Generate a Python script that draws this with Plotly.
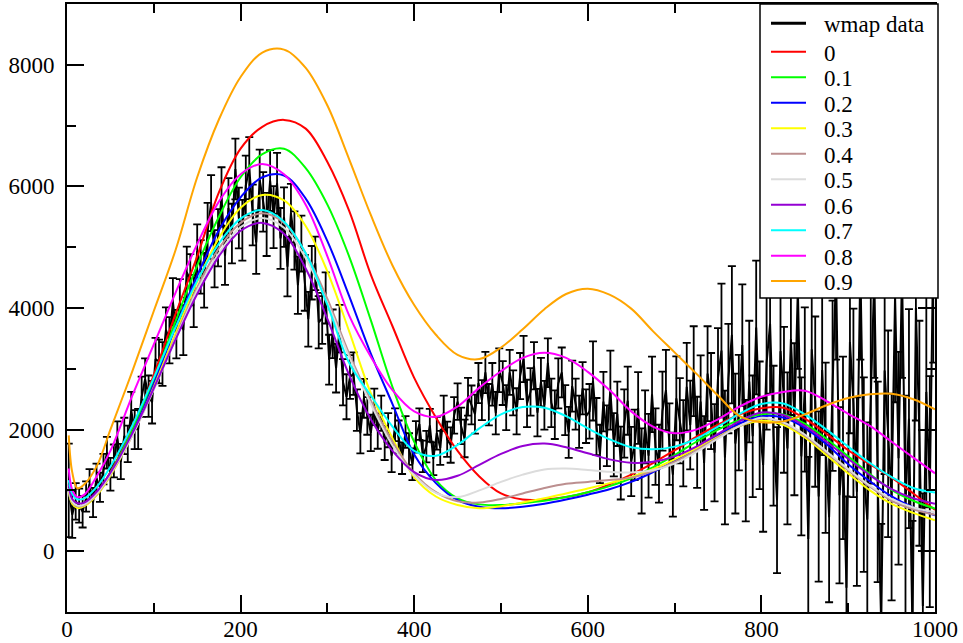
import plotly.graph_objects as go

# ---------------- WMAP data (l, D_l, error) ----------------
data_l = list(range(2, 1000, 4))
data_v = [
    1000, 600, 820, 750, 650, 900, 1100, 800, 1200, 1050,
    1350, 1620, 1265, 1485, 1855, 1475, 1895, 1765, 2310, 2000,
    2010, 2540, 2830, 2550, 2450, 3160, 3120, 3080, 3640, 3470,
    4100, 3570, 4075, 3635, 4590, 4465, 4115, 4935, 4675, 4455,
    5270, 5725, 4810, 5155, 5835, 4860, 5645, 5225, 6285, 5480,
    5280, 6015, 6300, 5530, 5080, 6105, 5745, 5375, 6095, 5495,
    6050, 5145, 5495, 4680, 5560, 5110, 4375, 5060, 4415, 3815,
    4580, 4735, 3765, 3830, 4165, 3150, 3575, 3010, 3660, 2780,
    2540, 2865, 2920, 2320, 1940, 2515, 2225, 1945, 2375, 1975,
    2270, 1780, 1990, 1570, 2080, 1880, 1530, 1960, 1680, 1430,
    1880, 2090, 1560, 1720, 2070, 1520, 1940, 1700, 2280, 1840,
    1745, 2235, 2460, 2060, 1855, 2540, 2405, 2255, 2765, 2485,
    2940, 2410, 2745, 2270, 2975, 2765, 2360, 2940, 2605, 2300,
    2880, 3160, 2430, 2620, 3050, 2280, 2780, 2400, 3100, 2440,
    2245, 2760, 2940, 2320, 1955, 2715, 2420, 2130, 2680, 2220,
    2300, 2800, 2050, 1600, 2460, 1900, 2650, 1750, 2260, 1450,
    2100, 2475, 1475, 1750, 2355, 1320, 2045, 1570, 2580, 1720,
    1440, 2305, 2650, 1760, 1260, 2515, 2145, 1775, 2705, 2075,
    2960, 1790, 2460, 1450, 2920, 2470, 1620, 2850, 3300, 1540,
    2840, 3560, 1770, 2280, 3390, 1490, 2790, 1890, 3680, 2070,
    1420, 3100, 3740, 1900, 840, 3290, 2490, 1690, 3490, 2170,
    4300, 1560, 2660, 200, 3320, 2460, 900, 2980, 1700, 560,
    2720, 4600, 920, 1700, -600, 3440, 2440, 980, 4700, 1260,
    520, 2710, 4500, 1140, -1200, 2970, 1930, 890, 4200, 1530,
    4600, 760, 2180, -1300, 4000, 1940, -900, 2620, 980, 5000,
]
data_err = [
    770, 380, 300, 280, 260, 250, 250, 240, 240, 240,
    250, 260, 270, 270, 280, 290, 300, 300, 310, 320,
    330, 330, 340, 340, 350, 350, 360, 360, 370, 380,
    390, 400, 400, 410, 420, 420, 430, 440, 440, 450,
    460, 460, 470, 470, 480, 480, 490, 490, 500, 500,
    500, 490, 510, 500, 520, 500, 490, 520, 500, 510,
    500, 500, 490, 490, 480, 480, 470, 460, 460, 450,
    440, 440, 430, 420, 420, 410, 400, 400, 390, 380,
    370, 360, 350, 340, 330, 320, 310, 300, 300, 290,
    290, 280, 280, 270, 270, 270, 260, 260, 260, 260,
    260, 260, 260, 260, 270, 270, 270, 280, 280, 290,
    290, 300, 300, 300, 310, 310, 320, 320, 330, 330,
    340, 340, 350, 350, 360, 360, 370, 370, 370, 380,
    380, 380, 390, 390, 390, 390, 400, 400, 400, 400,
    400, 410, 410, 410, 420, 420, 420, 430, 430, 440,
    450, 650, 470, 480, 490, 500, 650, 520, 530, 600,
    560, 560, 570, 580, 590, 700, 600, 690, 620, 630,
    640, 650, 660, 670, 690, 690, 700, 710, 720, 730,
    740, 750, 760, 770, 780, 790, 800, 820, 1100, 1100,
    900, 1130, 1150, 950, 1000, 1000, 1000, 1000, 1100, 1050,
    1100, 1100, 1150, 1150, 1200, 1200, 1200, 1250, 1250, 1250,
    1300, 1300, 1350, 1350, 1350, 1400, 1400, 1400, 1400, 1400,
    1400, 1450, 1450, 1500, 1500, 1500, 1550, 1550, 1550, 1600,
    1600, 1600, 1650, 1650, 1650, 1700, 1700, 1700, 1750, 1750,
    1750, 1800, 1800, 1800, 1850, 1850, 1850, 1900, 1900, 1900,
]

# ---------------- model curves ----------------
model_l = [2, 6, 12, 20, 35, 50, 75, 100, 125, 150, 175, 200, 225, 250, 275,
           300, 325, 350, 375, 400, 425, 450, 475, 500, 525, 550, 575, 600,
           625, 650, 675, 700, 725, 750, 775, 800, 825, 850, 875, 900, 925,
           950, 975, 1000]

m_00 = [1000, 800, 740, 770, 970, 1300, 2000, 2900, 3900, 4850, 5900, 6620, 6980, 7094, 6950,
        6400, 5600, 4550, 3700, 2850, 2200, 1650, 1230, 950, 850, 850, 890, 970,
        1100, 1260, 1450, 1660, 1880, 2080, 2250, 2350, 2360, 2180, 1930, 1660, 1430,
        1210, 950, 680]
m_01 = [1000, 790, 730, 760, 960, 1290, 1980, 2820, 3780, 4700, 5500, 6150, 6530, 6620, 6300,
        5700, 4850, 3800, 2700, 1800, 1170, 870, 770, 760, 790, 830, 890, 970,
        1070, 1200, 1380, 1580, 1800, 2000, 2160, 2250, 2250, 2100, 1850, 1560, 1270,
        1010, 830, 700]
m_02 = [990, 790, 720, 750, 940, 1260, 1930, 2750, 3680, 4530, 5280, 5820, 6150, 6180, 5800,
        5100, 4200, 3250, 2420, 1590, 1120, 840, 730, 706, 730, 780, 850, 930,
        1020, 1140, 1300, 1480, 1690, 1910, 2100, 2220, 2200, 2030, 1760, 1430, 1150,
        900, 720, 590]
m_03 = [980, 780, 710, 740, 930, 1240, 1900, 2700, 3580, 4430, 5150, 5650, 5860, 5770, 5350,
        4600, 3620, 2600, 1860, 1220, 900, 760, 706, 740, 800, 870, 950, 1030,
        1120, 1220, 1350, 1510, 1690, 1880, 2060, 2145, 2080, 1870, 1580, 1280, 1000,
        780, 630, 510]
m_04 = [1020, 810, 740, 760, 950, 1260, 1900, 2670, 3520, 4340, 4980, 5400, 5560, 5400, 4900,
        4150, 3250, 2480, 1800, 1280, 970, 820, 800, 860, 950, 1040, 1110, 1140,
        1170, 1210, 1320, 1470, 1660, 1870, 2060, 2180, 2110, 1900, 1620, 1330, 1060,
        830, 690, 600]
m_05 = [1040, 820, 750, 770, 960, 1270, 1900, 2660, 3490, 4290, 4900, 5330, 5480, 5320, 4820,
        4080, 3200, 2420, 1740, 1250, 960, 890, 1000, 1140, 1260, 1345, 1360, 1335,
        1305, 1295, 1330, 1440, 1630, 1850, 2060, 2195, 2120, 1920, 1640, 1350, 1080,
        860, 720, 640]
m_06 = [1100, 860, 790, 800, 990, 1290, 1930, 2680, 3480, 4230, 4850, 5270, 5400, 5220, 4650,
        3820, 2900, 2170, 1650, 1300, 1170, 1240, 1420, 1600, 1730, 1770, 1710, 1610,
        1510, 1455, 1470, 1560, 1720, 1930, 2140, 2280, 2240, 2060, 1800, 1520, 1250,
        1020, 870, 780]
m_07 = [1170, 950, 855, 870, 1070, 1390, 2060, 2850, 3680, 4450, 5060, 5470, 5610, 5420, 4900,
        4050, 3100, 2560, 2050, 1650, 1570, 1750, 2020, 2250, 2370, 2360, 2220, 2020,
        1840, 1710, 1675, 1720, 1850, 2050, 2260, 2420, 2430, 2250, 2000, 1720, 1450,
        1220, 1040, 965]
m_08 = [1360, 1010, 890, 930, 1250, 1650, 2550, 3400, 4250, 5050, 5750, 6200, 6370, 6200, 5700,
        4850, 3880, 3200, 2650, 2300, 2210, 2380, 2690, 2960, 3180, 3265, 3180, 2950,
        2650, 2300, 2050, 1940, 2000, 2170, 2380, 2540, 2620, 2640, 2470, 2260, 2060,
        1800, 1540, 1281]
m_09 = [1905, 1300, 1034, 1100, 1420, 2000, 2950, 3950, 4950, 6150, 7100, 7800, 8200, 8250, 7950,
        7330, 6450, 5530, 4700, 4050, 3560, 3230, 3160, 3350, 3650, 3980, 4230, 4318,
        4220, 3990, 3620, 3270, 2920, 2560, 2220, 2120, 2135, 2250, 2400, 2520, 2580,
        2590, 2500, 2332]

models = [m_00, m_01, m_02, m_03, m_04, m_05, m_06, m_07, m_08, m_09]
labels = ["0", "0.1", "0.2", "0.3", "0.4", "0.5", "0.6", "0.7", "0.8", "0.9"]
colors = ["#ff0000", "#00ff00", "#0000ff", "#ffff00", "#bc8f8f", "#dcdcdc",
          "#9400d3", "#00ffff", "#ff00ff", "#ffa500"]

FONT = "Liberation Serif"
W, H = 963, 643
ML, MR, MT, MB = 67, 28, 4, 31
PW, PH = W - ML - MR, H - MT - MB


def px_x(p):
    return (p - ML) / PW


def px_y(p):
    return (H - MB - p) / PH


fig = go.Figure()
fig.add_trace(go.Scatter(
    x=data_l, y=data_v, mode="lines", name="wmap data", showlegend=False,
    line=dict(color="black", width=2),
    error_y=dict(type="data", array=data_err, visible=True,
                 color="black", thickness=1.8, width=4),
))
for vals, lab, col in zip(models, labels, colors):
    fig.add_trace(go.Scatter(x=model_l, y=vals, mode="lines", name=lab,
                             showlegend=False,
                             line=dict(color=col, width=2, shape="spline")))

axis_common = dict(
    showline=True, linecolor="black", linewidth=2, mirror="allticks",
    ticks="inside", ticklen=17, tickwidth=1.5, tickcolor="black",
    showgrid=False, zeroline=False, automargin=False,
    tickfont=dict(family=FONT, size=23, color="black"),
)
fig.update_xaxes(range=[0, 1000], tick0=0, dtick=200,
                 minor=dict(dtick=100, ticks="inside", ticklen=9, tickwidth=1.5,
                            tickcolor="black", showgrid=False),
                 ticklabelstandoff=-5,
                 **axis_common)
fig.update_yaxes(range=[-1000, 9000], tick0=0, dtick=2000,
                 minor=dict(dtick=1000, ticks="inside", ticklen=9, tickwidth=1.5,
                            tickcolor="black", showgrid=False),
                 ticklabelstandoff=6,
                 **axis_common)

# ---------------- legend box (drawn like the reference) ----------------
legend_names = ["wmap data"] + labels
legend_colors = ["black"] + colors
legend_rows = [23.3, 51.7, 77.3, 102.7, 128.3, 153.7, 179.3, 204.7, 230.3, 255.7, 281.0]
shapes = [dict(type="rect", xref="paper", yref="paper", layer="above",
               x0=px_x(760), x1=px_x(938), y0=px_y(298), y1=px_y(4),
               fillcolor="white", line=dict(color="black", width=1.5))]
annotations = []
for i, (nm, col, ry) in enumerate(zip(legend_names, legend_colors, legend_rows)):
    shapes.append(dict(type="line", xref="paper", yref="paper", layer="above",
                       x0=px_x(771), x1=px_x(806), y0=px_y(ry), y1=px_y(ry),
                       line=dict(color=col, width=3 if i == 0 else 2)))
    annotations.append(dict(xref="paper", yref="paper", x=px_x(822), y=px_y(ry + 1.5),
                            xanchor="left", yanchor="middle", showarrow=False,
                            text=nm, font=dict(family=FONT, size=23, color="black")))

fig.update_layout(
    width=W, height=H,
    margin=dict(l=ML, r=MR, t=MT, b=MB),
    paper_bgcolor="white", plot_bgcolor="white",
    font=dict(family=FONT, size=23, color="black"),
    showlegend=False,
    shapes=shapes, annotations=annotations,
)

fig.write_html("out.html", config={"displayModeBar": False},
               post_script="document.body.style.margin='0';document.body.style.padding='0';")
